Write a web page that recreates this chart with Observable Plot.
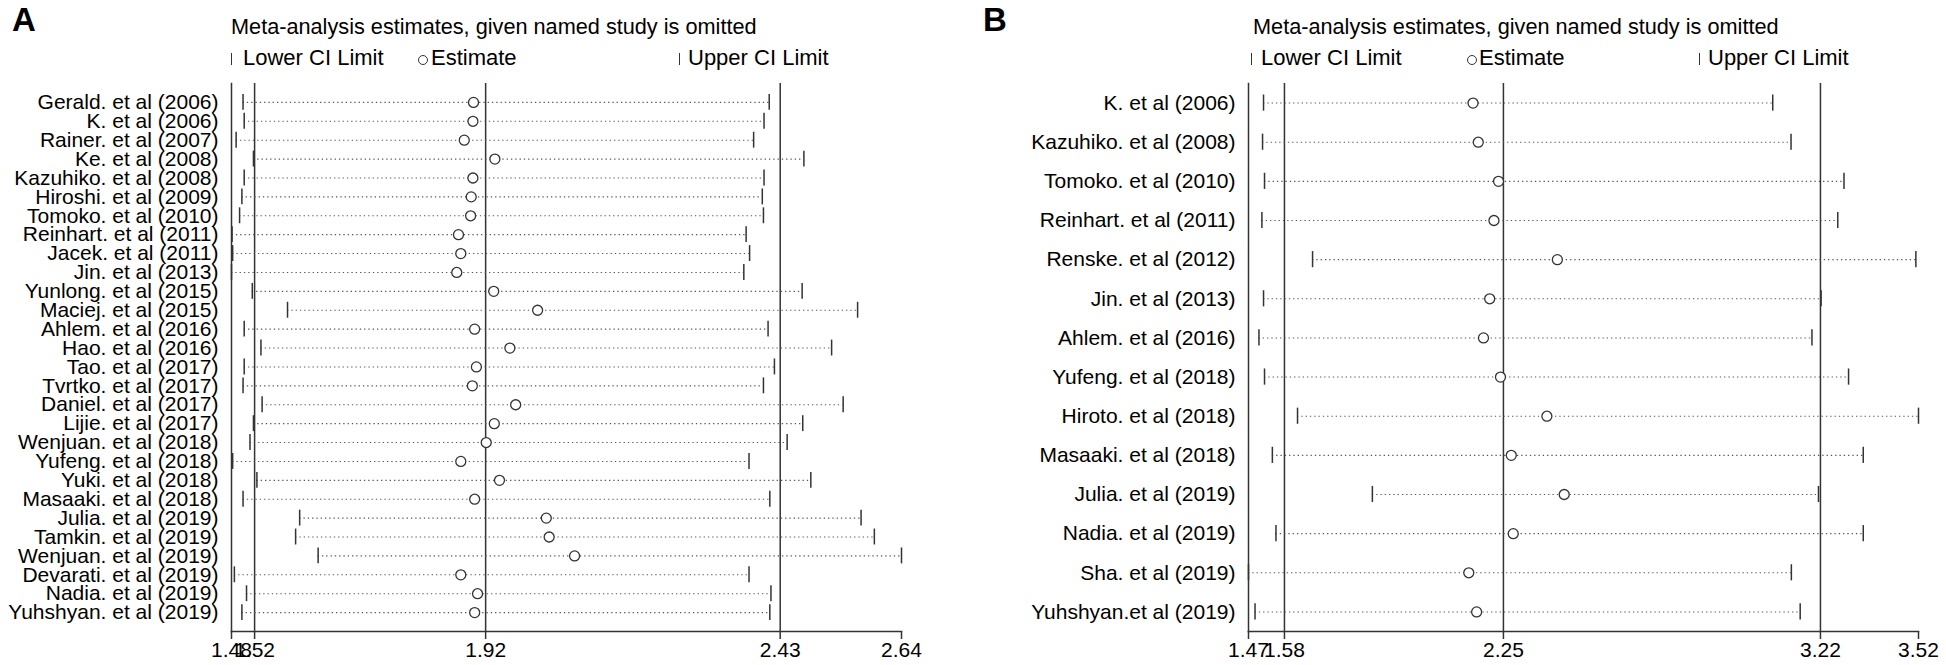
<!DOCTYPE html>
<html>
<head>
<meta charset="utf-8">
<script src="https://cdn.jsdelivr.net/npm/d3@7"></script>
<script src="https://cdn.jsdelivr.net/npm/@observablehq/plot@0.6"></script>
<style>
  html, body { margin: 0; padding: 0; background: #fff; }
  #page { position: relative; width: 1946px; height: 665px; background: #fff; font-family: "Liberation Sans", Arial, sans-serif; color: #000; overflow: hidden; }
  .abs { position: absolute; white-space: nowrap; line-height: 1; }
  .letter { font-size: 33px; font-weight: bold; }
  .head { font-size: 22px; }
  .title { font-size: 21.7px; }
  .bar { display: inline-block; width: 0; height: 12px; border-left: 1.3px solid #333; vertical-align: baseline; }
  .circ { display: inline-block; width: 8px; height: 8px; border: 1.2px solid #333; border-radius: 50%; vertical-align: baseline; }
  .chart { position: absolute; top: 75px; }
  .chart svg { overflow: visible; }
</style>
</head>
<body>
<div id="page">
  <div class="abs letter" style="left:12px;top:3px;">A</div>
  <div class="abs title" style="left:231px;top:16px;">Meta-analysis estimates, given named study is omitted</div>
  <div class="abs head" style="left:231px;top:47px;"><span class="bar"></span></div>
  <div class="abs head" style="left:243px;top:47px;">Lower CI Limit</div>
  <div class="abs head" style="left:418px;top:47px;"><span class="circ"></span></div>
  <div class="abs head" style="left:431px;top:47px;">Estimate</div>
  <div class="abs head" style="left:679px;top:47px;"><span class="bar"></span></div>
  <div class="abs head" style="left:688px;top:47px;">Upper CI Limit</div>
  <div id="chartA" class="chart" style="left:0px;"></div>

  <div class="abs letter" style="left:983px;top:3px;">B</div>
  <div class="abs title" style="left:1253px;top:16px;">Meta-analysis estimates, given named study is omitted</div>
  <div class="abs head" style="left:1251px;top:47px;"><span class="bar"></span></div>
  <div class="abs head" style="left:1261px;top:47px;">Lower CI Limit</div>
  <div class="abs head" style="left:1467px;top:47px;"><span class="circ"></span></div>
  <div class="abs head" style="left:1479px;top:47px;">Estimate</div>
  <div class="abs head" style="left:1699px;top:47px;"><span class="bar"></span></div>
  <div class="abs head" style="left:1708px;top:47px;">Upper CI Limit</div>
  <div id="chartB" class="chart" style="left:973px;"></div>
</div>
<script>
// ---------- Panel A data ----------
const studiesA = [
  "Gerald. et al (2006)", "K. et al (2006)", "Rainer. et al (2007)", "Ke. et al (2008)",
  "Kazuhiko. et al (2008)", "Hiroshi. et al (2009)", "Tomoko. et al (2010)", "Reinhart. et al (2011)",
  "Jacek. et al (2011)", "Jin. et al (2013)", "Yunlong. et al (2015)", "Maciej. et al (2015)",
  "Ahlem. et al (2016)", "Hao. et al (2016)", "Tao. et al (2017)", "Tvrtko. et al (2017)",
  "Daniel. et al (2017)", "Lijie. et al (2017)", "Wenjuan. et al (2018)", "Yufeng. et al (2018)",
  "Yuki. et al (2018)", "Masaaki. et al (2018)", "Julia. et al (2019)", "Tamkin. et al (2019)",
  "Wenjuan. et al (2019)", "Devarati. et al (2019)", "Nadia. et al (2019)", "Yuhshyan. et al (2019)"
];
const lowerA = [1.500, 1.502, 1.488, 1.518, 1.502, 1.498, 1.494, 1.481, 1.482, 1.480, 1.516, 1.577, 1.502, 1.531,
                1.502, 1.500, 1.533, 1.518, 1.512, 1.482, 1.524, 1.500, 1.598, 1.591, 1.630, 1.485, 1.506, 1.498];
const estimateA = [1.899, 1.898, 1.883, 1.936, 1.898, 1.895, 1.894, 1.873, 1.877, 1.870, 1.934, 2.010, 1.901, 1.962,
                   1.904, 1.897, 1.972, 1.935, 1.921, 1.877, 1.944, 1.901, 2.025, 2.030, 2.074, 1.877, 1.906, 1.901];
const upperA = [2.411, 2.402, 2.384, 2.471, 2.402, 2.399, 2.401, 2.371, 2.377, 2.367, 2.468, 2.564, 2.409, 2.519,
                2.420, 2.401, 2.539, 2.469, 2.442, 2.376, 2.483, 2.412, 2.570, 2.593, 2.640, 2.376, 2.414, 2.412];
const domainA = [1.48, 2.64];
const refA = [1.52, 1.92, 2.43];
const ticksA = [1.48, 1.52, 1.92, 2.43, 2.64];

// ---------- Panel B data ----------
const studiesB = [
  "K. et al (2006)", "Kazuhiko. et al (2008)", "Tomoko. et al (2010)", "Reinhart. et al (2011)",
  "Renske. et al (2012)", "Jin. et al (2013)", "Ahlem. et al (2016)", "Yufeng. et al (2018)",
  "Hiroto. et al (2018)", "Masaaki. et al (2018)", "Julia. et al (2019)", "Nadia. et al (2019)",
  "Sha. et al (2019)", "Yuhshyan.et al (2019)"
];
const lowerB = [1.516, 1.513, 1.519, 1.511, 1.666, 1.516, 1.502, 1.519, 1.620, 1.543, 1.849, 1.554, 1.470, 1.490];
const estimateB = [2.157, 2.173, 2.235, 2.221, 2.415, 2.208, 2.189, 2.241, 2.383, 2.274, 2.436, 2.280, 2.144, 2.168];
const upperB = [3.074, 3.130, 3.292, 3.273, 3.512, 3.222, 3.194, 3.306, 3.520, 3.351, 3.214, 3.351, 3.131, 3.158];
const domainB = [1.47, 3.52];
const refB = [1.58, 2.25, 3.22];
const ticksB = [1.47, 1.58, 2.25, 3.22, 3.52];

const FONT = '"Liberation Sans", Arial, sans-serif';
const LINE = "#333";

function panel({studies, lower, estimate, upper, domain, refs, ticks, marginLeft, marginRight, paddingOuter, tickInset}) {
  const rows = studies.map((name, i) => ({name, lo: lower[i], est: estimate[i], hi: upper[i]}));
  return Plot.plot({
    width: 973,
    height: 590,
    marginTop: 8,
    marginBottom: 34,
    marginLeft,
    marginRight,
    style: {fontFamily: FONT, background: "#fff", color: "#000"},
    x: {domain},
    y: {type: "band", domain: studies, paddingInner: 0, paddingOuter, round: false},
    marks: [
      Plot.axisY({tickSize: 0, tickPadding: 13, fontSize: 21, label: null}),
      Plot.axisX({ticks, tickSize: 8, tickPadding: 3, fontSize: 21, label: null, stroke: LINE, strokeWidth: 1.5, tickFormat: d => d.toFixed(2)}),
      Plot.ruleX(refs, {stroke: LINE, strokeWidth: 1.5}),
      Plot.frame({anchor: "left", stroke: LINE, strokeWidth: 1.5}),
      Plot.frame({anchor: "bottom", stroke: LINE, strokeWidth: 1.5}),
      Plot.ruleY(rows, {y: "name", x1: "lo", x2: "hi", stroke: "#555", strokeWidth: 1.1, strokeDasharray: "1.3 3"}),
      Plot.tickX(rows, {x: "lo", y: "name", stroke: LINE, strokeWidth: 1.5, insetTop: tickInset, insetBottom: tickInset}),
      Plot.tickX(rows, {x: "hi", y: "name", stroke: LINE, strokeWidth: 1.5, insetTop: tickInset, insetBottom: tickInset}),
      Plot.dot(rows, {x: "est", y: "name", r: 5, fill: "#fff", stroke: "#333", strokeWidth: 1.3})
    ]
  });
}

document.getElementById("chartA").append(panel({
  studies: studiesA, lower: lowerA, estimate: estimateA, upper: upperA,
  domain: domainA, refs: refA, ticks: ticksA,
  marginLeft: 231, marginRight: 72, paddingOuter: 0.5, tickInset: 1.5
}));
document.getElementById("chartB").append(panel({
  studies: studiesB, lower: lowerB, estimate: estimateB, upper: upperB,
  domain: domainB, refs: refB, ticks: ticksB,
  marginLeft: 275, marginRight: 28, paddingOuter: 0, tickInset: 11.5
}));
</script>
</body>
</html>
